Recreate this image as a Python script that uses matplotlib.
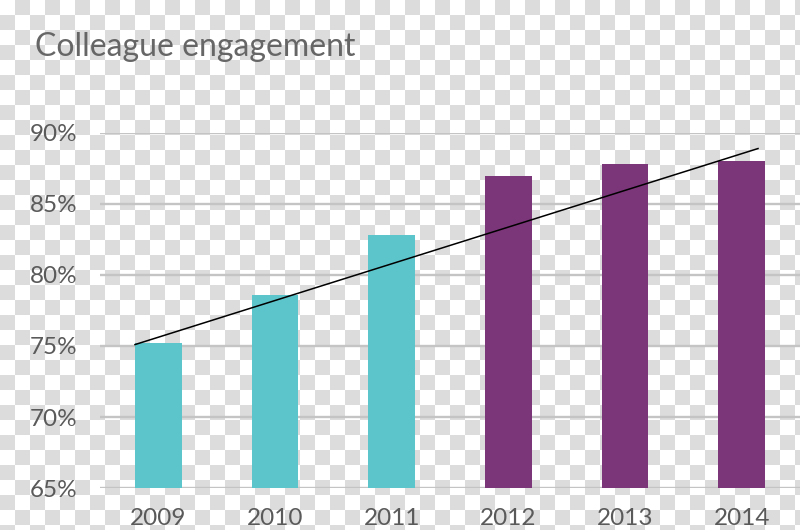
import numpy as np
import matplotlib
matplotlib.use('Agg')
import matplotlib.pyplot as plt

years = ['2009', '2010', '2011', '2012', '2013', '2014']
engagement = [75.2, 78.6, 82.8, 87.0, 87.8, 88.0]
bar_colors = ['#5cc5cb', '#5cc5cb', '#5cc5cb', '#7b3579', '#7b3579', '#7b3579']
y_ticks = [65, 70, 75, 80, 85, 90]
# trend line end points (bar index, percent)
trend_x = [-0.2, 5.14]
trend_y = [75.1, 88.9]

plt.rcParams['font.family'] = ['Lato', 'DejaVu Sans']

fig = plt.figure(figsize=(8, 5.3), dpi=100)

# transparent-style checkerboard behind everything
bg = fig.add_axes([0, 0, 1, 1], zorder=-10)
rows, cols = 36, 54
board = (np.add.outer(np.arange(rows), np.arange(cols)) % 2).astype(float)
bg.imshow(board, cmap=matplotlib.colors.ListedColormap(['#ffffff', '#dcdcdc']),
          extent=[0, cols * 15, rows * 15, 0], interpolation='nearest', aspect='auto')
bg.set_xlim(0, 800)
bg.set_ylim(530, 0)
bg.axis('off')

ax = fig.add_axes([0.125, 0.0792, 0.875, 0.670])
ax.patch.set_alpha(0)
x = np.arange(len(years))
ax.bar(x, engagement, width=0.4, color=bar_colors, zorder=3)
ax.plot(trend_x, trend_y, color='black', lw=1.1, zorder=4)

ax.set_xlim(-0.5, 5.5)
ax.set_ylim(65, 90)
ax.set_yticks(y_ticks)
ax.set_yticklabels([f'{v}%' for v in y_ticks])
ax.set_xticks(x)
ax.set_xticklabels(years)
for v in y_ticks:
    ax.axhline(v, color='#c4c4c4', lw=1.7, zorder=1)
for s in ax.spines.values():
    s.set_visible(False)
ax.tick_params(axis='both', length=0, labelsize=17.5, labelcolor='#5a5a5a')
ax.tick_params(axis='y', pad=16.5)
ax.tick_params(axis='x', pad=14.5)

fig.text(0.044, 0.895, 'Colleague engagement', fontsize=23, color='#666666',
         ha='left', va='baseline')

fig.savefig('out.png', dpi=100)
